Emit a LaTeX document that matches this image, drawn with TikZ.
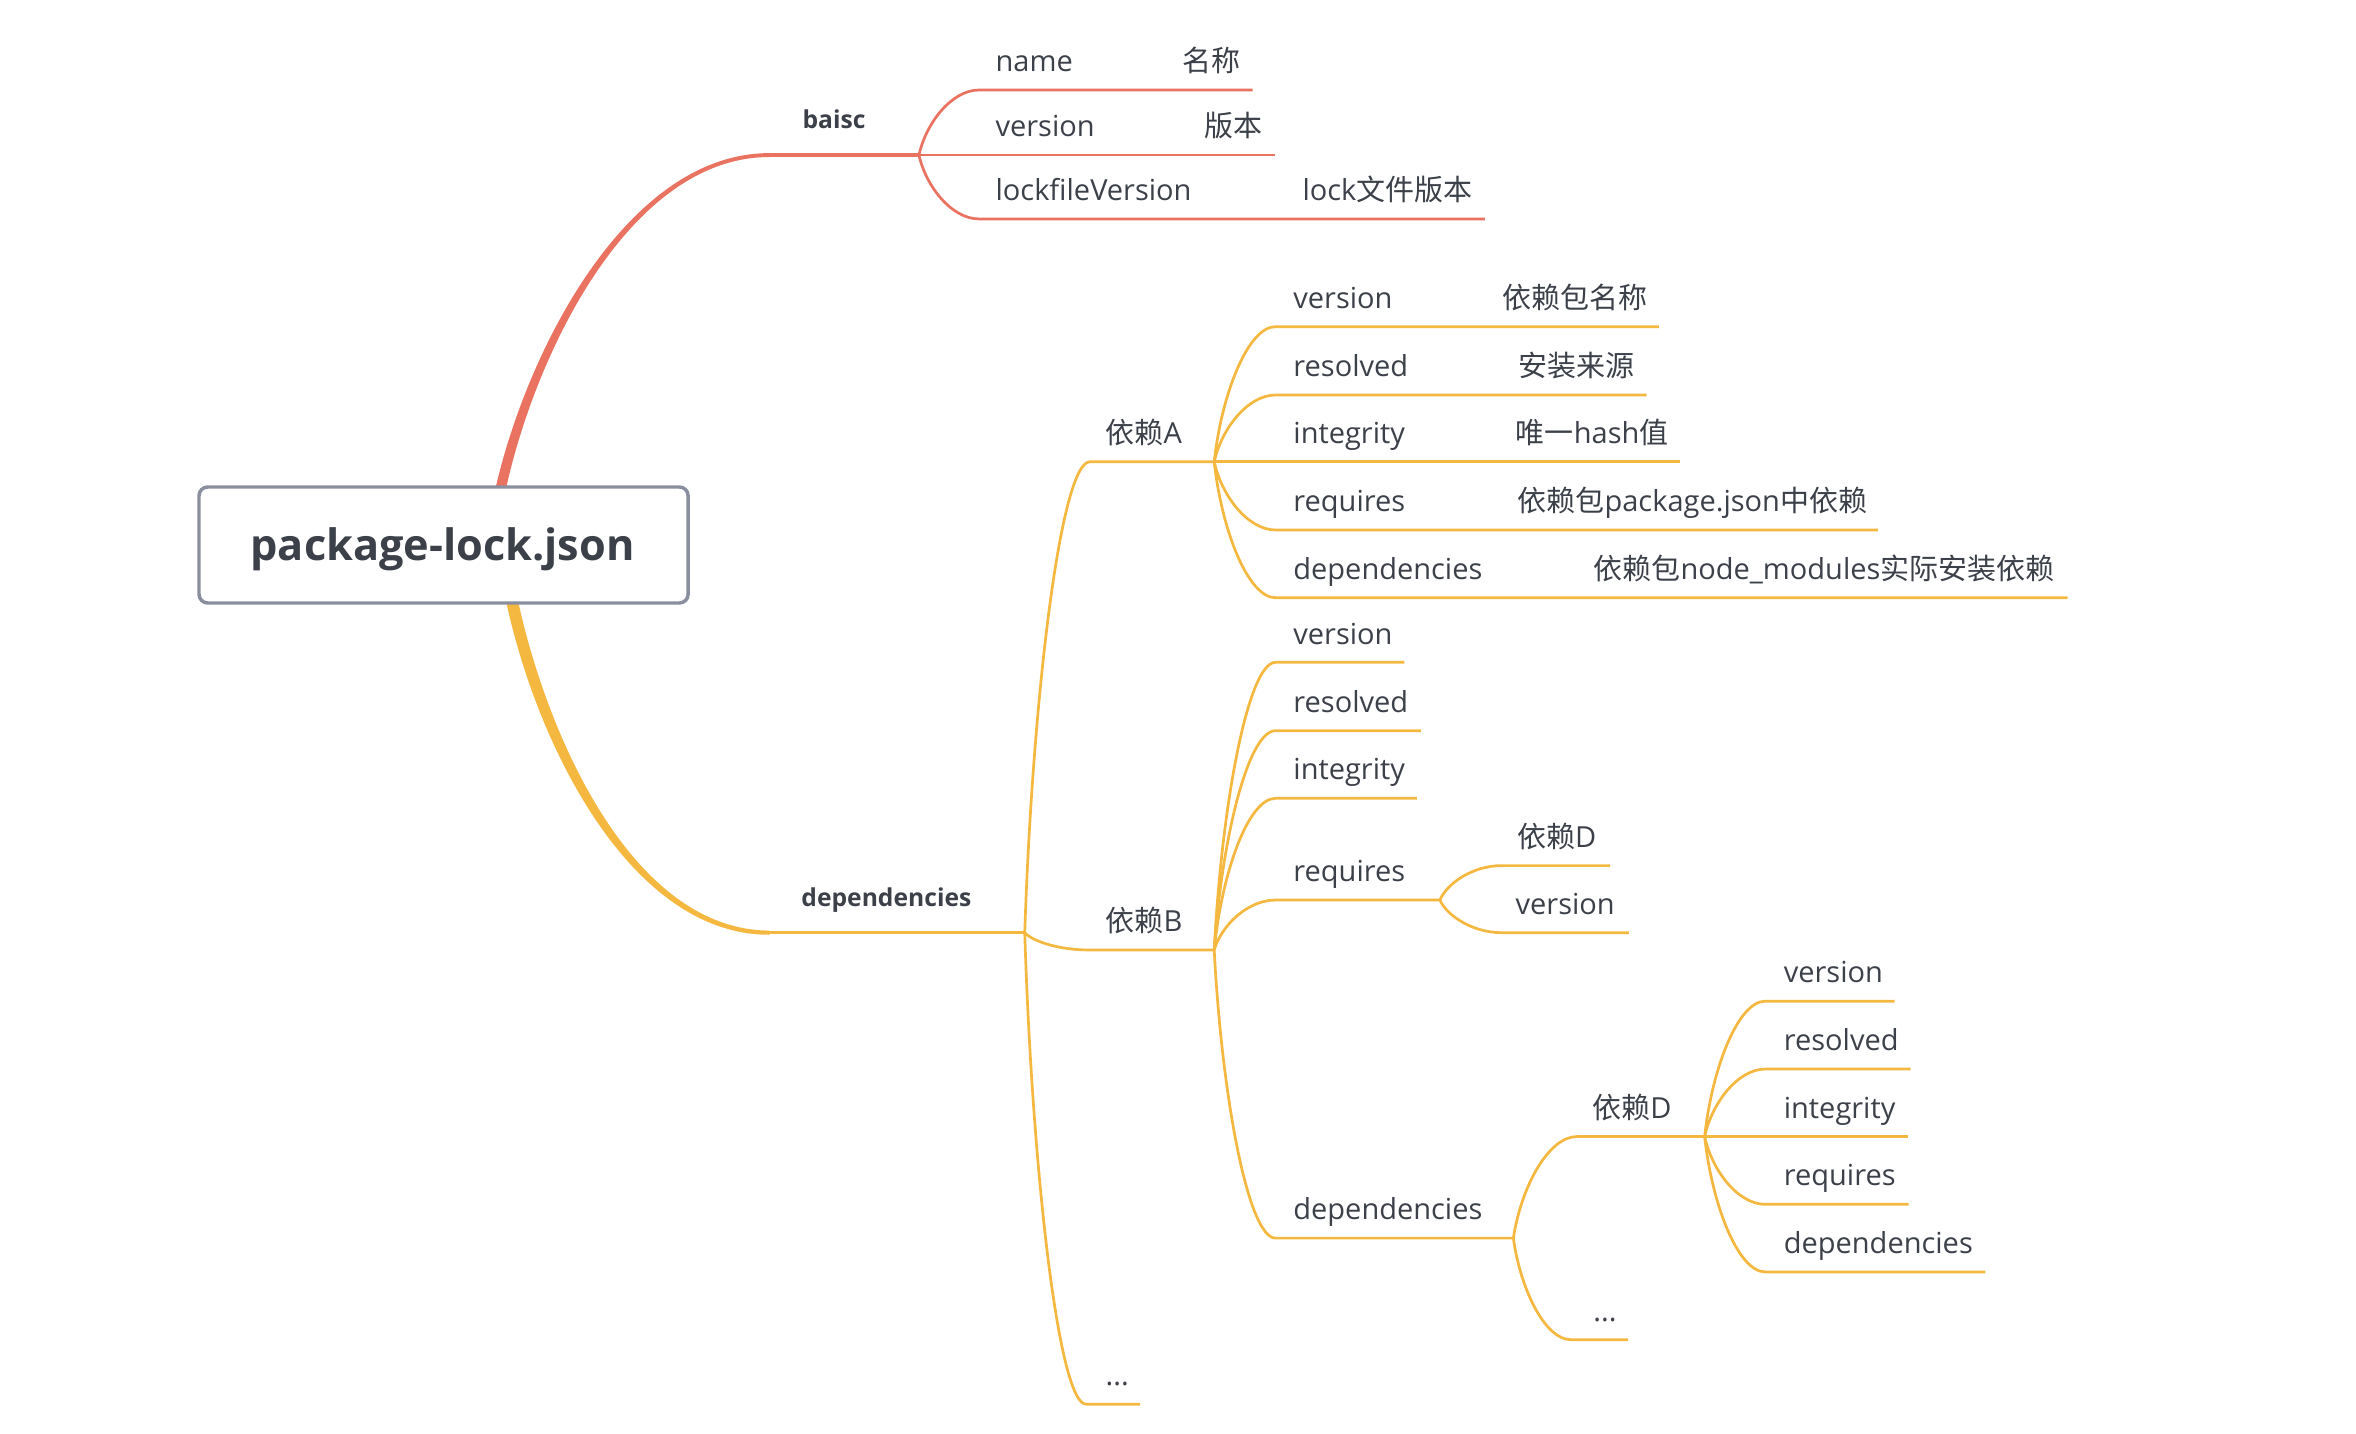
\documentclass[tikz,border=0pt]{standalone}
\usepackage{fontspec}
\setmainfont{Open Sans}
\newfontfamily\zhfont{Noto Sans CJK SC}
\newcommand\zh[1]{{\zhfont #1}}
\usetikzlibrary{calc}
\definecolor{mmred}{RGB}{234,114,97}
\definecolor{mmyel}{RGB}{244,184,64}
\definecolor{mmtxt}{RGB}{60,64,72}
\definecolor{mmbox}{RGB}{138,143,160}
\tikzset{
  elbow/.style={to path={let \p1=(\tikztostart),\p2=(\tikztotarget) in .. controls ({\x1+0.12*(\x2-\x1)},{\y1+0.5*(\y2-\y1)}) and ({\x1+0.55*(\x2-\x1)},\y2) .. (\tikztotarget)}},
  redl/.style={draw=mmred,line width=0.9pt},
  yell/.style={draw=mmyel,line width=0.9pt},
  lbl/.style={font=\fontsize{9.65pt}{11pt}\selectfont,text=mmtxt,inner sep=0pt,anchor=base west},
  mainlbl/.style={font=\fontsize{8.2pt}{10pt}\selectfont\bfseries,text=mmtxt,inner sep=0pt,anchor=base west},
  rootbox/.style={draw=mmbox,line width=1.15pt,rounded corners=2.9pt,fill=white,minimum width=162.75pt,minimum height=38.6pt,inner sep=0pt},
  roottext/.style={font=\fontsize{14.4pt}{16pt}\selectfont\bfseries,text=mmtxt,inner sep=0pt,anchor=base},
}
% #1 style, #2 name, #3 fork, #4 corner x, #5 line y, #6 end x, #7 text x, #8 text
\newcommand\mmleaf[8]{%
  \coordinate (#2-s) at (#4,#5);
  \coordinate (#2-e) at (#6,#5);
  \draw[#1] (#3) to[elbow] (#2-s) -- (#2-e);
  \node[lbl] (#2) at (#7,#5-12.2) {#8};}
\begin{document}
\begin{tikzpicture}[x=0.5pt,y=-0.5pt]
\useasboundingbox (0,0) rectangle (1568,954.3);
% ---- main branch: baisc
\coordinate (r-top) at (333.5,324);
\coordinate (b-h) at (512,103.2);
\coordinate (b-f) at (611.6,103.2);
\fill[mmred] ($(r-top)+(-3.5,0)$) .. controls (352,229.5) and (419,101.9) .. ($(b-h)+(0,-1.3)$) -- ($(b-h)+(0,1.3)$) .. controls (421,104.5) and (358,230.5) .. ($(r-top)+(3.5,0)$) -- cycle;
\draw[mmred,line width=1.2pt] (b-h) -- (b-f);
\node[mainlbl] (blbl) at (533.7,85.2) {baisc};
% ---- main branch: dependencies
\coordinate (r-bot) at (341,401);
\coordinate (d-h) at (512,620.7);
\coordinate (d-f) at (682,620.7);
\fill[mmyel] ($(r-bot)+(-4,0)$) .. controls (358,498) and (420.5,622.2) .. ($(d-h)+(0,1.4)$) -- ($(d-h)+(0,-1.4)$) .. controls (423.5,619.2) and (366,496) .. ($(r-bot)+(4,0)$) -- cycle;
\draw[mmyel,line width=1.2pt] (d-h) -- (d-f);
\node[mainlbl] (dlbl) at (533,603) {dependencies};
% ---- root
\node[rootbox] (root) at (295.2,362.7) {};
\node[roottext] (roottxt) at (294.5,372.7) {package-lock.json};
% ---- baisc children
\mmleaf{redl}{bn}{b-f}{651.5}{59.9}{833.6}{662.2}{name}
\node[lbl] (bn-v) at (786.5,47.7) {\zh{名称}};
\mmleaf{redl}{bv}{b-f}{651.5}{103.2}{848.5}{662.2}{version}
\node[lbl] (bv-v) at (801.3,91) {\zh{版本}};
\mmleaf{redl}{bl}{b-f}{651.5}{145.7}{988.3}{662.2}{lockfileVersion}
\node[lbl] (bl-v) at (866.5,133.5) {lock\zh{文件版本}};
% ---- dependencies children
\mmleaf{yell}{A}{d-f}{725.4}{307.3}{808.1}{735.5}{\zh{依赖}A}
\mmleaf{yell}{B}{d-f}{724}{632.2}{808.1}{735.5}{\zh{依赖}B}
\mmleaf{yell}{Z}{d-f}{722.8}{934.5}{758.7}{735.5}{...}
% ---- A children
\mmleaf{yell}{A1}{A-e}{848.9}{217.4}{1104}{860.4}{version}
\node[lbl] (A1-v) at (999.6,205.2) {\zh{依赖包名称}};
\mmleaf{yell}{A2}{A-e}{848.9}{262.9}{1095.8}{860.4}{resolved}
\node[lbl] (A2-v) at (1010.5,250.7) {\zh{安装来源}};
\mmleaf{yell}{A3}{A-e}{848.9}{307.3}{1118}{860.4}{integrity}
\node[lbl] (A3-v) at (1008.5,295.1) {\zh{唯一}hash\zh{值}};
\mmleaf{yell}{A4}{A-e}{848.9}{352.7}{1249.8}{860.4}{requires}
\node[lbl] (A4-v) at (1009.6,340.5) {\zh{依赖包}package.json\zh{中依赖}};
\mmleaf{yell}{A5}{A-e}{848.9}{397.8}{1376}{860.4}{dependencies}
\node[lbl] (A5-v) at (1060.2,385.6) {\zh{依赖包}node\_modules\zh{实际安装依赖}};
% ---- B children
\mmleaf{yell}{B1}{B-e}{848.9}{440.8}{934.7}{860.4}{version}
\mmleaf{yell}{B2}{B-e}{848.9}{486.3}{945.7}{860.4}{resolved}
\mmleaf{yell}{B3}{B-e}{848.9}{531.3}{943}{860.4}{integrity}
\mmleaf{yell}{B4}{B-e}{848.9}{599}{958.3}{860.4}{requires}
\mmleaf{yell}{B5}{B-e}{848.9}{824}{1007.2}{860.4}{dependencies}
% ---- B requires children
\mmleaf{yell}{R1}{B4-e}{999}{576.1}{1071.5}{1009.3}{\zh{依赖}D}
\mmleaf{yell}{R2}{B4-e}{999}{620.7}{1084}{1008.3}{version}
% ---- B dependencies children
\mmleaf{yell}{D}{B5-e}{1049.5}{756.4}{1134.5}{1059.4}{\zh{依赖}D}
\mmleaf{yell}{DZ}{B5-e}{1045.4}{891.6}{1083.6}{1060}{...}
% ---- D children
\mmleaf{yell}{D1}{D-e}{1174.8}{666.3}{1261}{1186.8}{version}
\mmleaf{yell}{D2}{D-e}{1174.8}{711.5}{1271.6}{1186.8}{resolved}
\mmleaf{yell}{D3}{D-e}{1174.8}{756.4}{1269.5}{1186.8}{integrity}
\mmleaf{yell}{D4}{D-e}{1174.8}{801.5}{1270.3}{1186.8}{requires}
\mmleaf{yell}{D5}{D-e}{1174.8}{846.5}{1321.3}{1186.8}{dependencies}
\end{tikzpicture}
\end{document}
